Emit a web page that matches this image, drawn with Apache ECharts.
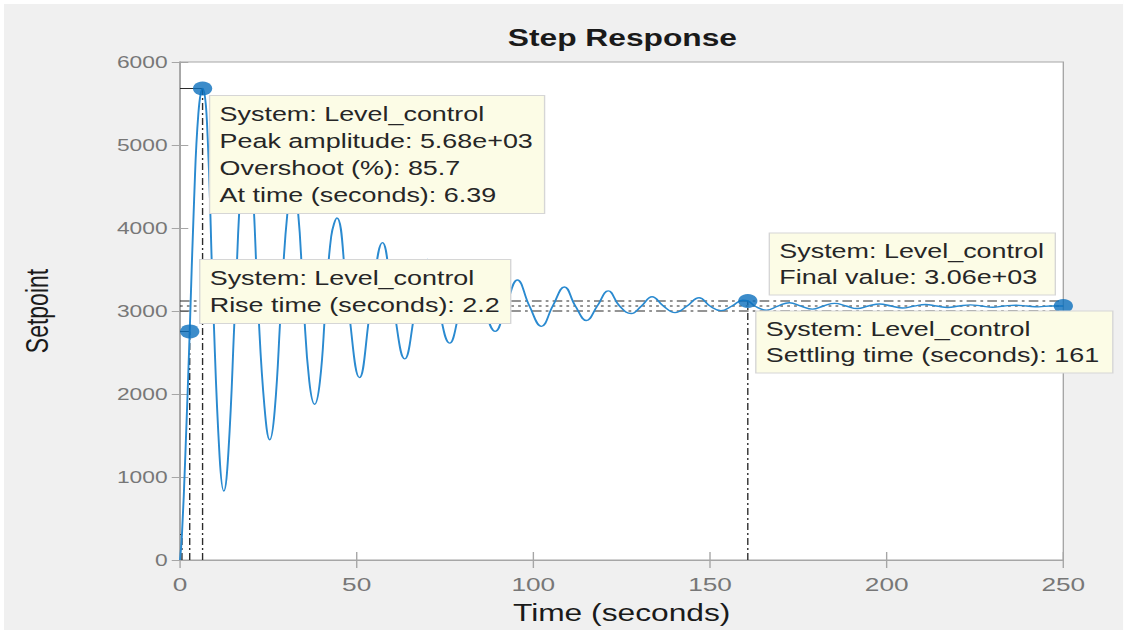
<!DOCTYPE html>
<html>
<head>
<meta charset="utf-8">
<title>Step Response</title>
<script src="https://cdn.jsdelivr.net/npm/echarts@6/dist/echarts.min.js"></script>
<style>
  html, body { margin: 0; padding: 0; background: #ffffff; overflow: hidden; }
  /* the figure is drawn narrow and widened horizontally, like a stretched MATLAB window capture */
  #chart { position: absolute; left: 0; top: 0; height: 630px; transform-origin: 0 0; }
</style>
</head>
<body>
<div id="chart"></div>
<script>
// Step response of Level_control: time (s) and output
const timeS = [
  0, 0.55, 1.5, 2.75, 4.0, 5.2, 6.39, 7.6, 9.4, 11.2, 12.4, 13.7, 15.6, 17.5, 18.9, 20.3, 22.1, 23.9,
  25.4, 26.8, 28.6, 30.4, 31.9, 33.4, 35.0, 36.6, 38.1, 39.6, 41.2, 42.8, 44.4, 47.6, 50.8, 54.0,
  57.3, 60.4, 63.6, 66.8, 70.0, 73.1, 76.3, 79.5, 82.8, 86.0, 89.2, 92.3, 95.5, 98.9, 102.3,
  105.5, 108.8, 111.9, 115.0, 118.1, 121.2, 124.4, 127.7, 130.6, 133.6, 136.8, 140.1, 143.5,
  146.9, 150.0, 153.1, 156.2, 159.3, 160.7, 162.7, 166.0, 169.2, 172.5, 175.7, 179.0, 182.1,
  185.3, 188.5, 191.7, 194.8, 198.0, 201.3, 204.5, 207.7, 211.0, 214.1, 217.3, 220.5, 223.7,
  226.8, 230.0, 233.2, 236.5, 239.7, 243.0, 246.2, 250
];
const response = [
  0, 306, 1250, 2754, 4350, 5380, 5680, 5300, 3060, 1250, 831, 1300, 3060, 4700, 5000, 4650, 3060, 1850,
  1449, 1800, 3060, 4180, 4480, 4200, 3060, 2150, 1876, 2150, 3060, 3900, 4121, 3060, 2197, 3060,
  3824, 3060, 2423, 3060, 3622, 3060, 2613, 3060, 3470, 3060, 2755, 3060, 3373, 3060, 2815,
  3060, 3290, 3060, 2886, 3060, 3242, 3060, 2969, 3060, 3171, 3060, 2981, 3060,
  3159, 3060, 3005, 3060, 3130, 3121, 3060, 3010, 3060, 3100, 3060, 3022, 3060,
  3092, 3060, 3030, 3060, 3085, 3060, 3036, 3060, 3078, 3060, 3042, 3060, 3074,
  3060, 3046, 3060, 3070, 3060, 3050, 3060, 3060
];

// Characteristics
const finalValue = 3060;
const peakTime = 6.39, peakAmplitude = 5680;
const riseLowTime = 0.55, riseLowValue = 306;     // 10 % of final value
const riseHighTime = 2.75, riseHighValue = 2754;  // 90 % of final value
const settlingTime = 160.7, settlingValue = 3121;
const bandUpper = 3121, bandLower = 2999;         // +/- 2 % settling band
const tEnd = 250;

const xTicks = [0, 50, 100, 150, 200, 250];
const yTicks = [0, 1000, 2000, 3000, 4000, 5000, 6000];

const peakLines = ['System: Level_control', 'Peak amplitude: 5.68e+03', 'Overshoot (%): 85.7', 'At time (seconds): 6.39'];
const riseLines = ['System: Level_control', 'Rise time (seconds): 2.2'];
const finalLines = ['System: Level_control', 'Final value: 3.06e+03'];
const settleLines = ['System: Level_control', 'Settling time (seconds): 161'];

// horizontal stretch of the figure window
const SX = 1.38;
const W = Math.round(1124 / SX);
const el = document.getElementById('chart');
el.style.width = W + 'px';
el.style.transform = 'scaleX(' + SX + ')';

const chart = echarts.init(el, null, { renderer: 'svg', width: W, height: 630 });

const curve = timeS.map((t, i) => [t, response[i]]);
const dashDot = [7, 3, 2, 3];
const refStyle = { color: '#2b2b2b', width: 1, type: dashDot };

function refLine(points, style) {
  return {
    type: 'line', data: points, symbol: 'none', silent: true, z: 3,
    lineStyle: Object.assign({}, refStyle, style || {})
  };
}

const FONT = 'Liberation Sans, Arial, Helvetica, sans-serif';
const frame = '#a6a6a6';

chart.setOption({
  backgroundColor: '#f0f0f0',
  animation: false,
  title: {
    text: 'Step Response', left: Math.round(616 / SX), top: 22, textAlign: 'center',
    textStyle: { fontSize: 23, fontWeight: 'bold', color: '#1a1a1a', fontFamily: FONT }
  },
  grid: { left: 180 / SX, right: 60 / SX, top: 62, bottom: 59, show: true, backgroundColor: '#ffffff', borderColor: frame, borderWidth: 1 },
  xAxis: [{
    type: 'value', position: 'bottom', min: xTicks[0], max: xTicks[xTicks.length - 1], interval: 50,
    name: 'Time (seconds)', nameLocation: 'middle', nameGap: 42,
    nameTextStyle: { fontSize: 23, color: '#1a1a1a', fontFamily: FONT },
    axisLine: { show: true, lineStyle: { color: frame } },
    axisTick: { show: true, inside: true, length: 8, lineStyle: { color: frame } },
    axisLabel: { margin: 15, color: '#777777', fontSize: 19, fontFamily: FONT },
    splitLine: { show: false }
  }, {
    type: 'value', position: 'top', min: xTicks[0], max: xTicks[xTicks.length - 1], interval: 50,
    axisLine: { show: true, lineStyle: { color: frame } },
    axisTick: { show: true, inside: true, length: 8, lineStyle: { color: frame } },
    axisLabel: { show: false }, splitLine: { show: false }
  }],
  yAxis: [{
    type: 'value', position: 'left', min: yTicks[0], max: yTicks[yTicks.length - 1], interval: 1000,
    name: 'Setpoint', nameLocation: 'middle', nameGap: 92, nameRotate: 90,
    nameTextStyle: { fontSize: 23, color: '#1a1a1a', fontFamily: FONT },
    axisLine: { show: true, lineStyle: { color: frame } },
    axisTick: { show: true, inside: true, length: 6, lineStyle: { color: frame } },
    axisLabel: { margin: 9, formatter: v => String(v), color: '#777777', fontSize: 16.5, fontFamily: FONT },
    splitLine: { show: false }
  }, {
    type: 'value', position: 'right', min: yTicks[0], max: yTicks[yTicks.length - 1], interval: 1000,
    axisLine: { show: true, lineStyle: { color: frame } },
    axisTick: { show: true, inside: true, length: 6, lineStyle: { color: frame } },
    axisLabel: { show: false }, splitLine: { show: false }
  }],
  series: [
    // settling band and final value
    refLine([[0, bandUpper], [tEnd, bandUpper]]),
    refLine([[0, bandLower], [tEnd, bandLower]]),
    refLine([[0, finalValue], [tEnd, finalValue]], { type: [2, 3] }),
    // peak
    refLine([[0, peakAmplitude], [peakTime, peakAmplitude]], { type: 'solid' }),
    refLine([[peakTime, 0], [peakTime, peakAmplitude]]),
    // rise time
    refLine([[0, riseLowValue], [riseLowTime, riseLowValue]]),
    refLine([[riseLowTime, 0], [riseLowTime, riseLowValue]]),
    refLine([[0, riseHighValue], [riseHighTime, riseHighValue]]),
    refLine([[riseHighTime, 0], [riseHighTime, riseHighValue]]),
    // settling time
    refLine([[settlingTime, 0], [settlingTime, settlingValue]]),
    {
      type: 'line', data: curve, symbol: 'none', smooth: 0.45, z: 4, silent: true,
      lineStyle: { color: '#2a8ad0', width: 1.4 }
    },
    {
      type: 'scatter', z: 6, symbolSize: 14, silent: true,
      itemStyle: { color: '#0b6fbd' },
      data: [[peakTime, peakAmplitude], [riseHighTime, riseHighValue], [settlingTime, settlingValue], [tEnd, finalValue]]
    }
  ]
});

// Data-tip boxes anchored to their markers
function tipBox(anchor, dx, dy, w, lines, lineGap) {
  const p = chart.convertToPixel({ gridIndex: 0 }, anchor);
  const x0 = p[0] + dx / SX, y0 = p[1] + dy;
  const items = [{
    type: 'rect', z: 100, silent: true,
    shape: { x: x0, y: y0, width: w / SX, height: lines.length * lineGap + 10 },
    style: { fill: '#fcfce6', stroke: '#d6d6d6', lineWidth: 1 }
  }];
  lines.forEach((s, i) => items.push({
    type: 'text', z: 101, silent: true,
    x: x0 + 10 / SX, y: y0 + 5 + i * lineGap + lineGap / 2,
    style: { text: s, fontSize: 19.5, fontFamily: FONT, fill: '#262626', verticalAlign: 'middle', align: 'left' }
  }));
  return items;
}

chart.setOption({
  graphic: [].concat(
    [{ type: 'rect', z: 200, silent: true, shape: { x: 0, y: 0, width: W, height: 4 }, style: { fill: '#ffffff' } },
     { type: 'rect', z: 200, silent: true, shape: { x: 0, y: 0, width: 4 / SX, height: 630 }, style: { fill: '#ffffff' } }],
    tipBox([peakTime, peakAmplitude], 7, 7, 335, peakLines, 27),
    tipBox([riseHighTime, riseHighValue], 10, -72, 311, riseLines, 27),
    tipBox([tEnd, finalValue], -294, -73, 286, finalLines, 26),
    tipBox([settlingTime, settlingValue], 8, 10, 357, settleLines, 26)
  )
});
</script>
</body>
</html>
